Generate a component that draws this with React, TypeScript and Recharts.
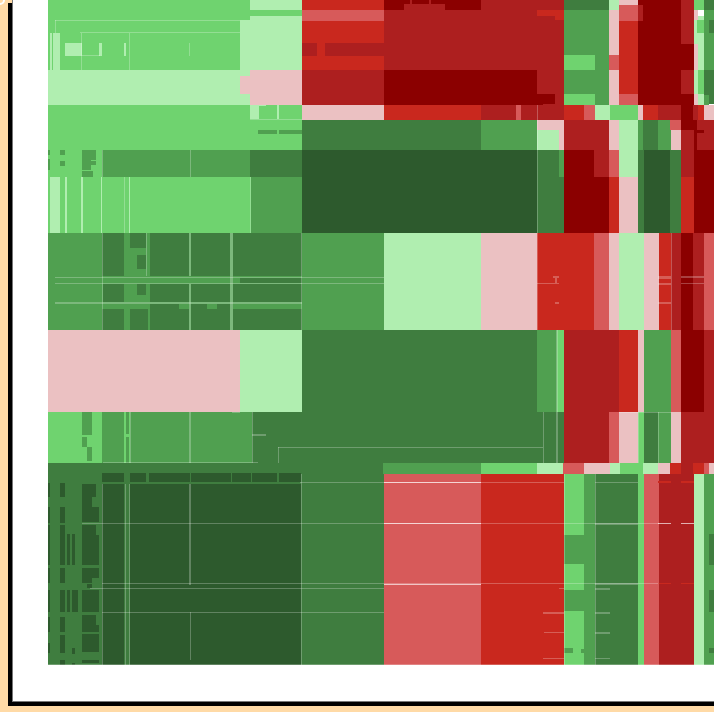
import React from "react";
import { ComposedChart, XAxis, YAxis, ReferenceArea, Line } from "recharts";

// ratio classes, from strongly red (0) to strongly green (9)
const palette = ["#8B0000", "#AD1F1F", "#C9281E", "#D75A5A", "#EBC1C2", "#B0EEB0", "#6FD36F", "#50A050", "#3F7D3F", "#2D5A2D", "#FFFFFF"];
const R4 = 0, R3 = 1, R2 = 2, R1 = 3, P = 4, L = 5, G1 = 6, G2 = 7, G3 = 8, G4 = 9, W = 10;

type C = number[]; // left, right, top, bottom, class

const topLeft: C[] = [
  [48, 302, 0, 105, G1], [250, 302, 0, 10, L], [240, 302, 20, 70, L], [250, 302, 16, 20, L],
  [50, 60, 33, 70, L], [52, 53, 33, 70, G1], [65, 82, 43, 56, L], [82, 99, 33, 56, G1], [99, 102, 43, 56, L], [124, 126, 43, 56, L],
  [48, 250, 70, 105, L], [240, 250, 76, 94, P], [250, 302, 70, 105, P],
  [48, 302, 105, 150, G1], [250, 259, 105, 119, L], [259, 266, 105, 106, L], [277, 279, 105, 119, L],
  [258, 277, 130, 134, G2], [279, 302, 130, 134, G2],
  [48, 302, 150, 177, G1], [48, 50, 150, 155, G2], [60, 65, 150, 155, G2], [48, 50, 159, 170, G2], [60, 65, 161, 166, G2],
  [82, 96, 150, 160, G2], [82, 91, 160, 170, G2], [91, 96, 161, 165, G2], [82, 93, 171, 177, G2], [102, 124, 150, 177, G2],
  [124, 250, 150, 177, G2], [250, 302, 150, 177, G3],
  [48, 251, 177, 233, G1], [50, 60, 177, 233, L], [65, 67, 177, 233, L], [81, 83, 177, 233, L], [101, 102, 177, 233, L], [129, 130, 177, 233, L],
  [251, 302, 177, 233, G2],
];

const midLeft: C[] = [
  [48, 302, 233, 330, G2],
  [102, 124, 233, 276, G3], [130, 146, 233, 248, G3], [137, 146, 255, 269, G3], [150, 189, 233, 276, G3], [191, 230, 233, 276, G3], [233, 302, 233, 276, G3],
  [240, 302, 278, 283, G3],
  [103, 124, 284, 302, G3], [137, 146, 284, 295, G3], [150, 189, 284, 302, G3], [191, 230, 284, 302, G3], [233, 302, 284, 302, G3],
  [150, 179, 304, 330, G3], [179, 189, 309, 330, G3], [191, 207, 304, 330, G3], [207, 217, 309, 330, G3], [217, 230, 304, 330, G3], [233, 302, 309, 330, G3],
  [102, 124, 309, 330, G3], [130, 146, 309, 330, G3], [146, 148, 309, 330, G3],
  [48, 240, 330, 412, P], [240, 302, 330, 412, L],
  [48, 102, 412, 463, G1], [82, 92, 412, 435, G2], [82, 87, 437, 447, G2], [87, 92, 447, 461, G2],
  [102, 124, 412, 463, G2], [124, 130, 412, 463, G1], [130, 252, 412, 463, G2], [252, 302, 412, 463, G3],
  [126, 129, 412, 434, G2], [126, 129, 437, 463, G2],
];

const bottomLeft: C[] = [
  [48, 302, 463, 665, G3],
  [102, 124, 473, 482, G4], [130, 146, 473, 482, G4], [149, 190, 473, 482, G4], [191, 231, 473, 482, G4], [232, 251, 473, 482, G4], [252, 277, 473, 482, G4], [279, 301, 473, 482, G4],
  [102, 124, 484, 665, G4], [130, 301, 484, 665, G4],
  [48, 50, 483, 497, G4], [60, 65, 483, 497, G4], [82, 96, 484, 497, G4], [82, 92, 497, 507, G4], [92, 99, 507, 522, G4], [82, 92, 507, 522, G4],
  [48, 50, 507, 523, G4], [60, 65, 507, 523, G4], [48, 50, 525, 565, G4], [60, 65, 525, 565, G4], [67, 70, 534, 565, G4], [72, 75, 534, 565, G4],
  [82, 96, 525, 535, G4], [82, 99, 535, 565, G4],
  [48, 50, 568, 583, G4], [60, 65, 568, 583, G4], [82, 99, 568, 578, G4], [82, 92, 578, 583, G4], [87, 92, 584, 588, G4],
  [48, 50, 590, 612, G4], [60, 65, 590, 612, G4], [67, 70, 590, 612, G4], [72, 78, 590, 612, G4], [82, 99, 590, 612, G4],
  [48, 50, 617, 632, G4], [60, 65, 617, 632, G4], [82, 96, 615, 632, G4], [82, 99, 625, 632, G4],
  [48, 50, 643, 653, G4], [60, 65, 635, 653, G4], [72, 75, 648, 654, G4], [82, 99, 634, 652, G4], [60, 65, 660, 665, G4], [72, 75, 663, 665, G4], [82, 99, 660, 663, G4],
];

const center: C[] = [
  [302, 384, 0, 10, R2], [302, 384, 10, 21, R1], [302, 384, 21, 43, R2], [302, 317, 43, 56, R3], [317, 325, 43, 56, R2], [325, 384, 43, 56, R3], [302, 384, 56, 70, R2],
  [384, 564, 0, 70, R3], [384, 481, 0, 10, R4], [481, 564, 0, 10, R3], [404, 445, 4, 10, R3], [410, 412, 0, 4, R3], [429, 431, 0, 4, R3],
  [537, 564, 10, 16, R2], [542, 555, 16, 20, R3], [555, 564, 16, 20, R2],
  [302, 384, 70, 105, R3], [384, 537, 70, 105, R4], [537, 564, 70, 105, R3], [537, 543, 94, 105, R4], [543, 555, 94, 104, R4],
  [302, 384, 105, 120, P], [384, 481, 105, 120, R2], [481, 516, 105, 120, R3], [516, 521, 105, 120, R1], [521, 564, 105, 120, R3],
  [302, 481, 120, 150, G3], [481, 537, 120, 150, G2], [537, 564, 120, 130, P], [537, 559, 130, 150, L], [559, 564, 130, 150, P],
  [302, 537, 150, 233, G4], [537, 564, 150, 233, G3], [559, 564, 150, 177, G2],
  [302, 384, 233, 330, G2], [384, 481, 233, 330, L], [481, 537, 233, 330, P],
  [537, 594, 233, 330, R2], [302, 537, 330, 463, G3],
  [537, 557, 330, 412, G2], [557, 564, 330, 412, G1], [537, 564, 412, 463, G3],
  [302, 384, 463, 665, G3], [302, 383, 463, 474, G3], [383, 481, 463, 474, G2], [481, 537, 463, 474, G1], [537, 563, 463, 474, L],
  [384, 481, 474, 665, R1], [481, 564, 474, 665, R2],
];

const right: C[] = [
  [564, 609, 0, 10, G3], [564, 609, 10, 94, G2], [564, 595, 55, 70, G1], [564, 595, 94, 105, G1], [595, 609, 94, 105, G2],
  [609, 619, 0, 10, L], [609, 619, 10, 55, P], [609, 619, 55, 70, R1], [609, 619, 70, 105, P],
  [619, 638, 0, 5, P], [619, 638, 5, 21, R1], [619, 638, 21, 94, R2], [619, 638, 94, 105, R1],
  [638, 681, 0, 105, R4], [638, 643, 5, 21, R3],
  [681, 694, 0, 44, R3], [681, 694, 44, 70, R4], [681, 694, 70, 94, R3], [681, 694, 94, 105, R4],
  [694, 704, 0, 10, G1], [704, 714, 0, 10, G3], [694, 698, 10, 20, P], [698, 705, 10, 16, W], [698, 704, 16, 20, L], [704, 714, 10, 70, G2], [709, 714, 20, 33, G3],
  [694, 697, 20, 33, L], [697, 704, 20, 33, G1], [698, 704, 33, 70, L], [694, 698, 33, 44, L], [694, 698, 44, 70, P], [694, 698, 70, 94, L],
  [698, 704, 70, 94, G1], [704, 714, 70, 95, G3], [694, 698, 94, 105, P], [698, 704, 94, 105, L], [704, 709, 95, 105, G2], [709, 714, 95, 104, G3],
  [564, 584, 105, 120, R2], [584, 595, 105, 120, R1], [595, 610, 105, 120, L], [610, 638, 105, 120, G1], [638, 643, 105, 120, P], [643, 658, 105, 120, R2], [658, 681, 105, 120, R3],
  [681, 693, 105, 120, R4], [693, 698, 105, 120, R3], [698, 704, 105, 120, R2], [704, 714, 105, 120, P],
  [564, 609, 120, 150, R3], [609, 619, 120, 150, P], [619, 638, 120, 150, L], [638, 643, 120, 150, G2], [643, 658, 120, 150, G3], [658, 670, 120, 150, G2], [670, 681, 120, 130, R1], [671, 681, 130, 150, P], [670, 671, 130, 150, G2],
  [681, 694, 120, 130, R4], [681, 694, 130, 177, R3], [694, 697, 120, 150, R4], [697, 714, 120, 150, R3], [697, 704, 130, 133, R4],
  [564, 594, 150, 177, R4], [594, 609, 150, 177, R3], [609, 619, 150, 177, R1], [619, 638, 150, 177, L], [564, 609, 177, 233, R4], [609, 619, 177, 233, R2], [619, 638, 177, 233, P],
  [638, 644, 150, 233, G3], [644, 670, 150, 233, G4], [670, 681, 150, 233, G3], [681, 694, 177, 233, R2], [694, 714, 150, 233, R4],
  [594, 609, 233, 330, R1], [609, 619, 233, 330, P], [619, 644, 233, 330, L], [644, 659, 233, 330, P], [659, 671, 233, 330, R2], [671, 681, 233, 330, R3], [681, 693, 233, 330, R4], [693, 704, 233, 330, R3], [704, 714, 233, 330, R1],
  [564, 619, 330, 412, R3], [619, 638, 330, 412, R2], [638, 644, 330, 412, P], [644, 671, 330, 412, G2], [671, 681, 330, 412, R1], [681, 704, 330, 412, R4], [704, 714, 330, 412, R3],
  [564, 609, 412, 463, R3], [609, 619, 412, 463, R1], [619, 638, 412, 463, P], [638, 644, 412, 463, G1], [644, 658, 412, 463, G3], [658, 671, 412, 463, G2], [671, 681, 412, 463, P], [681, 714, 412, 463, R3],
  [563, 584, 463, 474, R1], [584, 610, 463, 474, P], [610, 620, 463, 474, L], [620, 643, 463, 474, G1], [643, 658, 463, 474, L], [658, 670, 463, 474, P], [670, 681, 463, 474, R2], [681, 693, 463, 474, R3], [693, 704, 463, 474, R2], [704, 709, 463, 474, R1], [709, 714, 463, 474, P],
  [564, 584, 474, 535, G1], [564, 584, 535, 564, G2], [564, 584, 564, 590, G1], [564, 584, 590, 611, G2], [564, 584, 611, 665, G1], [564, 573, 648, 653, G2], [581, 584, 649, 653, G2],
  [584, 595, 474, 665, G2], [595, 638, 474, 665, G3], [638, 644, 474, 665, G1], [644, 659, 474, 665, R1], [659, 694, 474, 665, R3], [694, 704, 474, 665, L], [704, 714, 474, 665, G2],
  [709, 714, 534, 565, G3], [709, 714, 590, 612, G3], [709, 714, 648, 653, G3],
  [658, 671, 481, 483, R2], [681, 694, 481, 483, R2], [658, 671, 583, 584, R2], [681, 694, 583, 584, R2],
];

// thin pale seams between nested cells: left, right, top, bottom
const seams: number[][] = [
  [55, 240, 20, 21], [55, 56, 20, 33], [80, 240, 32, 33], [81, 82, 33, 70], [129, 130, 33, 70], [189, 190, 43, 56], [82, 100, 55, 56],
  [250, 302, 119, 120], [190, 191, 150, 177], [102, 103, 150, 177], [250, 251, 177, 233], [124, 125, 177, 233],
  [102, 103, 233, 330], [189, 191, 233, 276], [230, 233, 233, 330], [55, 384, 277, 278], [55, 384, 283, 284], [55, 302, 302, 304],
  [189, 191, 284, 330], [146, 147, 233, 276], [301, 302, 233, 330], [232, 240, 412, 413], [189, 191, 412, 463], [252, 253, 412, 463], [278, 543, 447, 448], [278, 279, 447, 463], [103, 258, 462, 463], [130, 131, 412, 463], [252, 266, 434, 436],
  [102, 103, 484, 665], [189, 191, 484, 585], [82, 659, 523, 524], [90, 384, 588, 589], [102, 659, 583, 584], [102, 384, 612, 613], [125, 126, 484, 665], [129, 130, 484, 665], [301, 302, 474, 665],
  [300, 564, 482, 483], [48, 714, 664, 665], [190, 191, 612, 660],
  [537, 538, 105, 330], [543, 544, 412, 463], [556, 558, 330, 463], [537, 559, 283, 284], [553, 559, 276, 278], [555, 557, 278, 283], [555, 559, 302, 304], [564, 565, 474, 665],
  [638, 639, 412, 463], [658, 659, 412, 463], [619, 671, 412, 413], [671, 672, 233, 330], [595, 596, 474, 665],
  [658, 671, 276, 279], [658, 671, 283, 285], [658, 671, 302, 304], [681, 704, 276, 278], [681, 704, 283, 284],
  [595, 638, 482, 483], [595, 638, 523, 525], [595, 638, 583, 585], [595, 610, 588, 590], [595, 610, 612, 614], [595, 610, 632, 634], [595, 610, 658, 659],
  [543, 564, 612, 614], [544, 564, 632, 633], [543, 564, 658, 659], [559, 564, 588, 589],
];

// brighter seams across the salmon column: left, right, top, bottom
const brightSeams: number[][] = [
  [384, 481, 482, 483], [384, 481, 523, 524], [384, 481, 584, 585], [658, 671, 523, 524], [681, 694, 523, 524],
];

const groups = [topLeft, midLeft, bottomLeft, center, right];
const extent = [{ x: 0, y: 0 }, { x: 714, y: 712 }];

export default function App() {
  return (
    <div style={{ position: "absolute", left: 0, top: 0, width: 714, height: 712, overflow: "hidden", background: "#FFDAA6" }}>
      <div style={{ position: "absolute", left: 12, top: -1, width: 800, height: 701, background: "#fff", border: "1px solid #777", boxShadow: "-4px 4px 0 #000" }} />
      <div style={{ position: "absolute", left: 0, top: 0 }}>
        <ComposedChart width={714} height={712} margin={{ top: 0, right: 0, bottom: 0, left: 0 }} data={extent}>
          <XAxis type="number" dataKey="x" domain={[0, 714]} hide />
          <YAxis type="number" dataKey="y" domain={[0, 712]} reversed hide />
          <Line dataKey="y" stroke="none" dot={false} isAnimationActive={false} />
          {groups.flat().map((c, i) => (
            <ReferenceArea key={"c" + i} x1={c[0]} x2={c[1]} y1={c[2]} y2={c[3]} fill={palette[c[4]]} fillOpacity={1} stroke="none" ifOverflow="visible" />
          ))}
          {seams.map((s, i) => (
            <ReferenceArea key={"s" + i} x1={s[0]} x2={s[1]} y1={s[2]} y2={s[3]} fill="#FFFFFF" fillOpacity={0.25} stroke="none" ifOverflow="visible" />
          ))}
          {brightSeams.map((s, i) => (
            <ReferenceArea key={"b" + i} x1={s[0]} x2={s[1]} y1={s[2]} y2={s[3]} fill="#FFFFFF" fillOpacity={0.65} stroke="none" ifOverflow="visible" />
          ))}
        </ComposedChart>
      </div>
    </div>
  );
}
